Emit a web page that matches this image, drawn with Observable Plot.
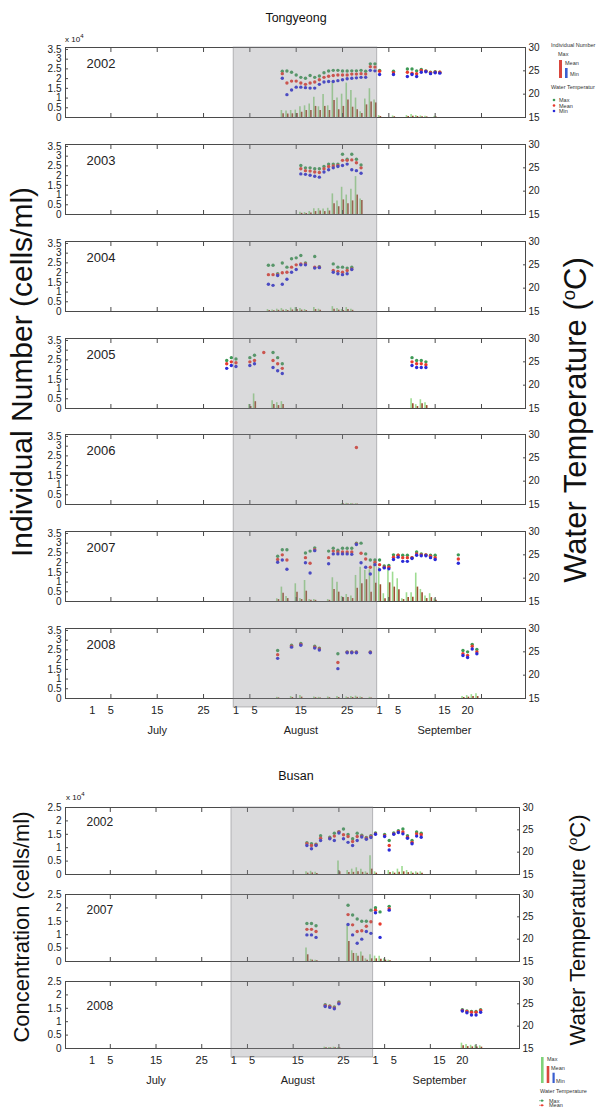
<!DOCTYPE html>
<html>
<head>
<meta charset="utf-8">
<script src="https://cdn.jsdelivr.net/npm/d3@7"></script>
<script src="https://cdn.jsdelivr.net/npm/@observablehq/plot@0.6"></script>
<style>
  html, body { margin: 0; padding: 0; background: #fff; }
  body { font-family: Arial, "Liberation Sans", Helvetica, sans-serif; color: #111; }
  #root { position: relative; width: 597px; height: 1112px; overflow: hidden; }
  .abs { position: absolute; }
  .vt { position: absolute; white-space: nowrap; transform: translate(-50%, -50%) rotate(-90deg); color: #111; }
  .ttl { position: absolute; transform: translate(-50%, -50%); font-size: 12.5px; white-space: nowrap; }
  .x104 { position: absolute; font-size: 8px; white-space: nowrap; }
  .x104 sup { font-size: 6px; }
</style>
</head>
<body>
<div id="root"></div>
<script>
// ---------- DATA (day: July 1 = 1, Aug 1 = 32, Sep 1 = 63) ----------
// Water temperature rows: [day, max, mean, min] (°C)
// Individual number rows: [day, max, mean] (x10^4 cells/ml)
const tyYears = [2002, 2003, 2004, 2005, 2006, 2007, 2008];
const bsYears = [2002, 2007, 2008];

const tyTemp2002 = [[42,24.9,24.4,23.4],[43,24.95,22.4,19.9],[44,24.7,22.8,20.9],[45,24.1,22.8,21.5],[46,23.6,22.4,21.5],[47,23.4,22.1,21.4],[48,24.0,22.4,21.3],[49,23.6,22.6,21.3],[50,23.9,23.1,22.1],[51,24.6,23.6,22.6],[52,24.95,23.85,22.7],[53,25.1,24.0,22.7],[54,25.1,24.1,22.9],[55,24.95,24.1,23.1],[56,24.95,24.1,23.3],[57,25.0,24.3,23.4],[58,25.0,24.3,23.5],[59,25.1,24.4,23.6],[60,24.9,24.3,23.6],[61,26.5,25.9,25.1],[62,26.5,25.8,25.0],[63,25.1,24.9,24.2],[66,24.9,24.6,24.2],[69,25.4,24.7,23.8],[70,25.4,24.5,24.2],[71,25.0,24.4,23.8],[72,25.3,25.1,24.7],[73,25.0,24.9,24.8],[74,24.7,24.6,24.4],[75,24.8,24.7,24.6],[76,24.7,24.7,24.5]];
const tyCells2002 = [[42,0.36,0.19],[43,0.33,0.18],[44,0.36,0.19],[45,0.38,0.21],[46,0.55,0.27],[47,0.6,0.36],[48,0.7,0.36],[49,1.04,0.57],[50,0.55,0.36],[51,1.18,0.57],[52,0.6,0.36],[53,1.82,0.87],[54,1.0,0.4],[55,1.2,0.57],[56,1.77,0.9],[57,1.39,0.53],[58,1.0,0.4],[59,0.3,0.2],[60,0.95,0.65],[61,1.48,0.8],[62,0.9,0.75],[63,0.1,0.05],[66,0.08,0.04],[69,0.1,0.05],[70,0.15,0.07],[71,0.1,0.05],[72,0.08,0.04],[73,0.06,0.03],[75,0.06,0.03]];

const tyTemp2003 = [[46,25.5,24.8,23.7],[47,25.0,24.4,23.6],[48,25.0,24.3,23.4],[49,24.8,24.1,23.2],[50,24.8,24.0,23.0],[51,25.3,24.8,24.1],[52,25.8,25.3,24.6],[53,25.8,25.4,25.0],[54,25.8,25.5,25.3],[55,27.9,26.6,25.5],[56,26.85,26.6,25.8],[57,27.9,26.7,24.6],[58,26.85,26.1,24.4],[59,25.6,25.0,23.85]];
const tyCells2003 = [[46,0.12,0.06],[47,0.1,0.05],[48,0.15,0.08],[49,0.3,0.15],[50,0.3,0.18],[51,0.28,0.15],[52,0.32,0.18],[53,1.06,0.55],[54,0.7,0.4],[55,1.4,0.75],[56,1.0,0.55],[57,1.3,0.7],[58,1.95,1.0],[59,0.8,0.72]];

const tyTemp2004 = [[39,24.9,22.9,20.85],[40,24.9,22.9,20.6],[41,23.1,22.9,22.7],[42,25.4,23.3,20.85],[43,24.5,23.4,21.9],[44,26.3,24.5,23.4],[45,26.5,25.0,24.0],[46,27.0,25.2,25.0],[47,25.4,25.2,25.0],[49,26.8,24.5,24.3],[50,24.6,24.5,24.4],[53,25.2,23.8,23.4],[54,24.5,23.6,23.1],[55,24.5,23.4,22.9],[56,24.3,23.8,23.1],[57,24.5,24.1,24.0]];
const tyCells2004 = [[39,0.1,0.05],[40,0.08,0.04],[41,0.12,0.06],[42,0.15,0.07],[43,0.1,0.05],[44,0.18,0.08],[45,0.2,0.1],[46,0.15,0.07],[47,0.1,0.05],[49,0.2,0.1],[50,0.12,0.06],[53,0.25,0.12],[54,0.15,0.07],[55,0.1,0.05],[56,0.2,0.1],[57,0.12,0.06]];

const tyTemp2005 = [[30,25.3,24.6,23.6],[31,25.9,25.0,24.2],[32,25.6,24.8,24.0],[35,25.9,25.0,24.2],[36,26.4,25.3,24.6],[38,null,27.0,null],[40,27.0,25.3,23.8],[41,25.9,24.6,23.1],[42,24.6,23.6,22.5],[70,25.9,25.0,24.2],[71,25.3,24.6,23.8],[72,25.3,24.6,23.8],[73,25.0,24.4,23.8]];
const tyCells2005 = [[35,0.2,0.1],[36,0.75,0.35],[40,0.4,0.2],[41,0.3,0.15],[42,0.35,0.2],[70,0.5,0.25],[71,0.2,0.1],[72,0.45,0.25],[73,0.3,0.15]];

const tyTemp2006 = [[58,null,27.2,null]];
const tyCells2006 = [[55,0.05,0.03],[56,0.06,0.03],[57,0.05,0.02],[58,0.04,0.02]];

const tyTemp2007 = [[41,24.7,24.0,23.4],[42,26.1,25.0,23.9],[43,26.1,23.9,21.9],[47,25.4,24.4,23.3],[48,25.8,23.2,21.1],[49,26.5,26.1,25.9],[52,25.8,24.4,23.1],[53,26.4,25.8,25.2],[54,26.0,25.6,25.2],[55,26.4,25.6,25.2],[56,26.4,25.6,25.2],[57,26.4,25.6,25.1],[58,27.5,27.35,27.2],[59,27.5,25.35,23.3],[60,25.2,24.1,22.35],[61,23.9,22.35,20.9],[62,23.9,23.4,22.9],[63,23.9,22.9,21.8],[64,22.6,22.35,22.2],[65,22.7,22.35,22.0],[66,25.0,24.5,24.0],[67,24.9,24.9,24.5],[68,24.9,24.4,23.6],[69,24.9,24.4,23.6],[70,24.4,24.4,24.2],[71,25.6,25.2,24.9],[72,25.2,25.0,24.8],[73,25.0,25.0,24.8],[74,24.9,24.7,24.4],[75,24.9,24.4,24.0],[80,25.0,24.1,23.2]];
const tyCells2007 = [[41,0.14,0.1],[42,0.74,0.43],[43,0.26,0.15],[45,0.91,0.48],[46,0.15,0.1],[47,1.08,0.53],[48,0.1,0.06],[49,0.1,0.06],[52,0.1,0.06],[53,1.22,0.62],[54,0.99,0.48],[55,0.26,0.2],[56,0.36,0.2],[57,0.28,0.15],[58,1.34,0.68],[59,1.76,0.91],[60,1.6,1.12],[61,1.63,0.48],[62,1.97,0.94],[63,1.76,0.86],[64,0.4,0.14],[65,1.6,0.96],[66,1.51,0.74],[67,1.17,0.6],[68,0.14,0.1],[69,0.45,0.2],[70,0.45,0.22],[71,1.46,0.74],[72,0.62,0.45],[73,0.28,0.15],[74,0.4,0.2],[75,0.14,0.06]];

const tyTemp2008 = [[41,25.3,24.4,23.6],[44,26.4,26.2,26.0],[46,26.8,26.6,26.4],[49,26.2,26.0,25.8],[50,25.8,25.6,25.4],[54,24.6,22.7,21.4],[56,25.0,24.9,24.8],[57,25.0,24.9,24.8],[58,25.0,24.9,24.8],[61,25.0,24.9,24.8],[81,25.3,24.6,24.2],[82,25.0,24.2,23.8],[83,26.6,26.2,25.6],[84,25.5,25.0,24.6]];
const tyCells2008 = [[41,0.06,0.03],[44,0.1,0.05],[46,0.15,0.07],[49,0.08,0.04],[50,0.06,0.03],[52,0.08,0.04],[54,0.1,0.05],[56,0.08,0.04],[57,0.1,0.05],[58,0.12,0.06],[59,0.08,0.04],[61,0.06,0.03],[81,0.1,0.05],[82,0.15,0.07],[83,0.2,0.1],[84,0.25,0.1]];

const bsTemp2002 = [[48,22.1,21.9,21.5],[49,21.9,21.5,20.75],[50,21.8,21.65,21.5],[51,23.7,23.1,22.6],[53,23.35,23.1,23.0],[54,24.25,23.6,22.6],[55,24.6,24.5,24.3],[56,25.2,23.9,23.0],[57,23.95,23.5,22.2],[58,23.0,22.4,21.5],[59,24.25,23.5,22.6],[60,23.8,23.6,23.4],[61,23.3,23.1,22.9],[62,23.7,23.5,23.3],[63,24.3,24.1,24.0],[65,23.95,23.7,23.5],[66,22.6,21.5,20.5],[67,24.3,24.1,24.0],[68,24.8,24.6,24.4],[69,25.2,24.5,24.1],[70,23.7,23.35,23.1],[71,22.6,22.2,21.9],[72,24.5,24.1,23.6],[73,24.25,23.9,23.35]];
const bsCells2002 = [[48,0.1,0.05],[49,0.12,0.06],[50,0.08,0.04],[55,0.5,0.1],[57,0.15,0.07],[58,0.2,0.08],[59,0.25,0.1],[60,0.2,0.08],[61,0.1,0.05],[62,0.7,0.2],[63,0.1,0.05],[66,0.15,0.07],[67,0.1,0.05],[68,0.2,0.08],[69,0.3,0.1],[70,0.15,0.07],[71,0.1,0.05],[72,0.1,0.05],[73,0.1,0.05]];

const bsTemp2007 = [[48,23.5,22.2,20.95],[49,23.5,22.2,20.95],[50,23.0,21.7,20.4],[57,27.6,25.5,23.3],[58,25.4,23.2,20.95],[59,24.5,21.7,19.1],[60,24.0,21.9,20.0],[61,24.0,22.9,21.7],[62,26.5,23.9,21.3],[63,27.05,26.5,25.9],[64,26.1,23.4,20.4],[66,27.35,26.8,26.5]];
const bsCells2007 = [[48,0.5,0.25],[49,0.08,0.05],[50,0.05,0.03],[57,1.36,0.75],[58,0.4,0.3],[59,0.3,0.2],[60,0.35,0.2],[61,0.1,0.05],[62,0.25,0.1],[63,0.2,0.1],[64,0.2,0.08],[65,0.1,0.05],[66,0.05,0.03]];

const bsTemp2008 = [[52,24.8,24.6,24.4],[53,24.5,24.4,24.2],[54,24.3,24.1,23.9],[55,25.4,25.2,25.0],[82,23.7,23.5,23.4],[83,23.4,23.3,23.0],[84,23.3,23.1,22.5],[85,23.3,23.1,22.5],[86,23.7,23.5,23.1]];
const bsCells2008 = [[52,0.05,0.03],[53,0.04,0.02],[54,0.05,0.03],[55,0.04,0.02],[82,0.2,0.1],[83,0.15,0.07],[84,0.12,0.06],[85,0.12,0.06],[86,0.1,0.05]];

// x axis: day numbers, tick marks every 10 days, labels as printed
const tickDays = [5, 15, 25, 35, 45, 55, 65, 75, 85];
const labelDays = [1, 5, 15, 25, 32, 36, 46, 56, 63, 67, 77, 82];
const labelText = ["1", "5", "15", "25", "1", "5", "15", "25", "1", "5", "15", "20"];
const monthDays = [15, 46, 77];
const monthNames = ["July", "August", "September"];
const augustBand = [{start: 31.5, end: 62.5}];
const tyCellTicks = [0, 0.5, 1, 1.5, 2, 2.5, 3, 3.5];
const bsCellTicks = [0, 0.5, 1, 1.5, 2, 2.5];
const tempTicks = [15, 20, 25, 30];

// ---------- RENDER ----------
const X_DOMAIN = [-4.8, 94.5];
const FONT = "Arial, 'Liberation Sans', Helvetica, sans-serif";
const C = {tMax: "#3e9a56", tMean: "#e83a2e", tMin: "#2b2bd8", cMax: "#9edc92", cMean: "#9a4f2e", frame: "#4a4a4a"};
const root = document.getElementById("root");

function place(node, left, top) {
  const d = document.createElement("div");
  d.className = "abs";
  d.style.left = left + "px";
  d.style.top = top + "px";
  d.appendChild(node);
  root.appendChild(d);
  return d;
}

function panel({year, temps, cells, top, h, yMax, yTicks, mr, last, yearDy, yearSize}) {
  const mt = 14, mb = last ? 48 : 14;
  const t2y = d3.scaleLinear([15, 30], [0, yMax]);
  const col = (i) => temps.filter(d => d[i] != null);
  const marks = [
    Plot.ruleX(cells, {x: d => d[0], y1: 0, y2: d => d[1], stroke: C.cMax, strokeWidth: 1.6, dx: -0.9}),
    Plot.ruleX(cells, {x: d => d[0], y1: 0, y2: d => d[2], stroke: C.cMean, strokeWidth: 1.6, dx: 0.8}),
    Plot.dot(col(1), {x: d => d[0], y: d => t2y(d[1]), r: 1.7, fill: C.tMax}),
    Plot.dot(col(2), {x: d => d[0], y: d => t2y(d[2]), r: 1.7, fill: C.tMean}),
    Plot.dot(col(3), {x: d => d[0], y: d => t2y(d[3]), r: 1.7, fill: C.tMin}),
    Plot.frame({stroke: C.frame, strokeWidth: 1}),
    Plot.axisY({anchor: "left", ticks: yTicks, tickSize: -3, tickPadding: 7, tickFormat: d => String(d), fontSize: 10, stroke: C.frame}),
    Plot.axisY({anchor: "right", ticks: tempTicks.map(t2y), tickSize: -3, tickPadding: 6, tickFormat: v => String(Math.round(t2y.invert(v))), fontSize: 10, stroke: C.frame}),
    Plot.axisX({anchor: "top", ticks: tickDays, tickSize: -4, tickFormat: () => "", stroke: C.frame}),
    Plot.axisX({anchor: "bottom", ticks: tickDays, tickSize: -4, tickFormat: () => "", stroke: C.frame}),
    Plot.text([year], {frameAnchor: "top-left", dx: 21, dy: yearDy, text: d => String(d), fontSize: yearSize, textAnchor: "start", lineAnchor: "middle", fill: "#222"})
  ];
  if (last) {
    marks.push(
      Plot.axisX({anchor: "bottom", ticks: labelDays, tickSize: 0, tickPadding: 8, tickFormat: d => labelText[labelDays.indexOf(d)], fontSize: 11}),
      Plot.axisX({anchor: "bottom", ticks: monthDays, tickSize: 0, tickPadding: 28, tickFormat: d => monthNames[monthDays.indexOf(d)], fontSize: 11})
    );
  }
  const svg = Plot.plot({
    width: 597, height: mt + h + mb,
    marginLeft: 65, marginRight: mr, marginTop: mt, marginBottom: mb,
    x: {domain: X_DOMAIN},
    y: {domain: [0, yMax]},
    style: {background: "transparent", fontFamily: FONT, fontSize: "10px", overflow: "visible", color: "#222"},
    marks
  });
  place(svg, 0, top - mt);
}

function band(top, bottom, mr) {
  const svg = Plot.plot({
    width: 597, height: bottom - top,
    marginLeft: 65, marginRight: mr, marginTop: 0, marginBottom: 0,
    x: {domain: X_DOMAIN, axis: null},
    y: {domain: [0, 1], axis: null},
    style: {background: "transparent", overflow: "visible"},
    marks: [
      Plot.rect(augustBand, {x1: "start", x2: "end", y1: 0, y2: 1, fill: "#8e8f94", fillOpacity: 0.33, stroke: "#6f7075", strokeOpacity: 0.55, strokeWidth: 0.8})
    ]
  });
  const d = place(svg, 0, top);
  d.style.pointerEvents = "none";
}

// Tongyeong
const tyTemps = [tyTemp2002, tyTemp2003, tyTemp2004, tyTemp2005, tyTemp2006, tyTemp2007, tyTemp2008];
const tyCells = [tyCells2002, tyCells2003, tyCells2004, tyCells2005, tyCells2006, tyCells2007, tyCells2008];
const tyTops = [47, 144, 241, 338, 434, 531, 628];
tyYears.forEach((year, i) => panel({year, temps: tyTemps[i], cells: tyCells[i], top: tyTops[i], h: 70, yMax: 3.6, yTicks: tyCellTicks, mr: 72, last: i === tyYears.length - 1, yearDy: 16, yearSize: 13}));
band(47, 707, 72);

// Busan
const bsTemps = [bsTemp2002, bsTemp2007, bsTemp2008];
const bsCells = [bsCells2002, bsCells2007, bsCells2008];
const bsTops = [807, 894, 981];
const bsYearDy = [15, 16, 25];
bsYears.forEach((year, i) => panel({year, temps: bsTemps[i], cells: bsCells[i], top: bsTops[i], h: 67, yMax: 2.5, yTicks: bsCellTicks, mr: 78, last: i === bsYears.length - 1, yearDy: bsYearDy[i], yearSize: 12}));
band(807, 1057, 78);

// Titles & axis titles
function html(cls, text, css) {
  const d = document.createElement("div");
  d.className = cls;
  d.innerHTML = text;
  Object.assign(d.style, css);
  root.appendChild(d);
  return d;
}
html("ttl", "Tongyeong", {left: "296px", top: "18px"});
html("ttl", "Busan", {left: "296px", top: "776px"});
html("x104", "x 10<sup>4</sup>", {left: "65px", top: "33px"});
html("x104", "x 10<sup>4</sup>", {left: "66px", top: "791px"});
html("vt", "Individual Number (cells/ml)", {left: "22px", top: "372px", fontSize: "30px"});
html("vt", "Water Temperature (<sup style='font-size:60%'>o</sup>C)", {left: "576px", top: "420px", fontSize: "31px"});
html("vt", "Concentration (cells/ml)", {left: "22px", top: "927px", fontSize: "22px"});
html("vt", "Water Temperature (<sup style='font-size:60%'>o</sup>C)", {left: "578px", top: "930px", fontSize: "22px"});

// Legends
const legTop = `<svg width="67" height="85" xmlns="http://www.w3.org/2000/svg" font-family="${FONT}" font-size="5.5" fill="#333">
  <text x="21" y="12">Individual Number</text>
  <text x="28" y="21">Max</text>
  <rect x="29" y="25" width="3" height="18" fill="#d9463c"/>
  <text x="35" y="30">Mean</text>
  <rect x="35" y="33" width="2.6" height="10" fill="#3a5fd0"/>
  <text x="40" y="41">Min</text>
  <text x="21" y="54">Water Temperatur</text>
  <circle cx="24" cy="65" r="1.3" fill="${C.tMax}"/><text x="29" y="67">Max</text>
  <circle cx="24" cy="70.5" r="1.3" fill="${C.tMean}"/><text x="29" y="72.5">Mean</text>
  <circle cx="24" cy="76" r="1.3" fill="${C.tMin}"/><text x="29" y="78">Min</text>
</svg>`;
const legBot = `<svg width="69" height="62" xmlns="http://www.w3.org/2000/svg" font-family="${FONT}" font-size="5.5" fill="#333">
  <rect x="13" y="7" width="2.6" height="26" fill="#7fd27a"/>
  <text x="19" y="11">Max</text>
  <rect x="18.7" y="16" width="2.6" height="17" fill="#d9463c"/>
  <text x="23" y="20">Mean</text>
  <rect x="24.5" y="22.7" width="2.2" height="10.3" fill="#3a5fd0"/>
  <text x="28" y="33">Min</text>
  <text x="12" y="43">Water Temperature</text>
  <line x1="11" x2="16" y1="50.7" y2="50.7" stroke="${C.tMax}" stroke-width="0.6"/><circle cx="14" cy="50.7" r="1.1" fill="${C.tMax}"/><text x="21" y="52.5">Max</text>
  <line x1="11" x2="16" y1="55.3" y2="55.3" stroke="${C.tMean}" stroke-width="0.6"/><circle cx="14" cy="55.3" r="1.1" fill="${C.tMean}"/><text x="21" y="57">Mean</text>
</svg>`;
html("abs", legTop, {left: "530px", top: "35px"});
html("abs", legBot, {left: "528px", top: "1050px"});
</script>
</body>
</html>
